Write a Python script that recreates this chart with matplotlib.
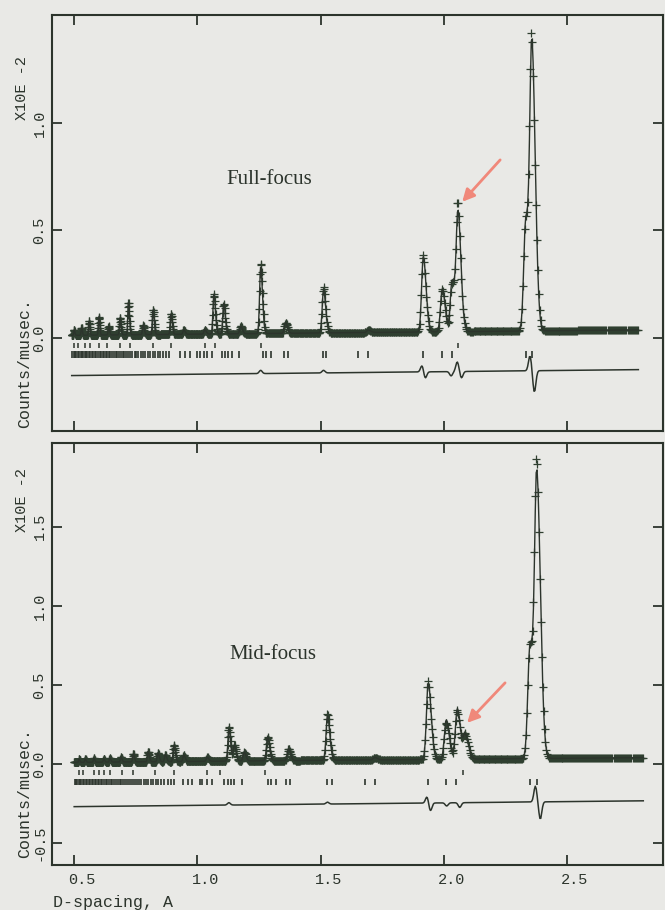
import numpy as np
import matplotlib
matplotlib.use("Agg")
import matplotlib.pyplot as plt
from matplotlib.transforms import ScaledTranslation

# ---------------- Full-focus bank ----------------
full_range = (0.49, 2.79)
full_peak_d = [0.500, 0.530, 0.560, 0.600, 0.640, 0.686, 0.720, 0.780, 0.820,
               0.893, 0.945, 1.030, 1.067, 1.107, 1.176, 1.257, 1.358, 1.512,
               1.694, 1.917, 1.994, 2.034, 2.058, 2.333, 2.358]
full_peak_h = [0.025, 0.035, 0.065, 0.085, 0.040, 0.080, 0.150, 0.045, 0.115,
               0.095, 0.020, 0.020, 0.185, 0.140, 0.035, 0.310, 0.050, 0.200,
               0.012, 0.350, 0.200, 0.240, 0.540, 0.520, 1.280]
full_bg = (0.012, 0.011)          # level at d=0.5, slope per Angstrom
full_diff_base = (-0.175, 0.012)
full_resid_d = [1.257, 1.512, 1.912, 1.925, 2.030, 2.055, 2.072, 2.350, 2.368]
full_resid_a = [0.015, 0.012, 0.030, -0.030, -0.020, 0.045, -0.030, 0.070, -0.100]
full_ticks_1 = [0.500, 0.515, 0.545, 0.565, 0.600, 0.632, 0.686, 0.728, 0.818,
                0.892, 1.030, 1.070, 1.257, 2.058]
full_ticks_2 = [0.492, 0.498, 0.503, 0.509, 0.514, 0.519, 0.526, 0.531, 0.537,
                0.542, 0.549, 0.554, 0.560, 0.566, 0.571, 0.578, 0.584, 0.589,
                0.596, 0.603, 0.608, 0.615, 0.621, 0.628, 0.634, 0.640, 0.647,
                0.653, 0.661, 0.668, 0.674, 0.682, 0.689, 0.697, 0.704, 0.712,
                0.720, 0.728, 0.736, 0.745, 0.752, 0.761, 0.770, 0.779, 0.789,
                0.798, 0.808, 0.818, 0.828, 0.839, 0.850, 0.862, 0.872, 0.883,
                0.930, 0.950, 0.970, 0.998, 1.010, 1.027, 1.040, 1.058, 1.100,
                1.112, 1.124, 1.140, 1.168, 1.265, 1.280, 1.300, 1.350, 1.368,
                1.508, 1.522, 1.650, 1.694, 1.917, 1.992, 2.032, 2.333, 2.358]

# ---------------- Mid-focus bank ----------------
mid_range = (0.50, 2.81)
mid_peak_d = [0.520, 0.545, 0.580, 0.620, 0.645, 0.690, 0.740, 0.800, 0.840,
              0.870, 0.905, 0.945, 1.040, 1.128, 1.150, 1.190, 1.285, 1.370,
              1.528, 1.720, 1.937, 2.010, 2.055, 2.087, 2.350, 2.378]
mid_peak_h = [0.020, 0.020, 0.025, 0.020, 0.025, 0.030, 0.050, 0.065, 0.055,
              0.045, 0.105, 0.040, 0.025, 0.200, 0.100, 0.055, 0.150, 0.075,
              0.280, 0.015, 0.480, 0.250, 0.320, 0.150, 0.720, 1.730]
mid_bg = (0.010, 0.013)
mid_diff_base = (-0.270, 0.016)
mid_resid_d = [1.128, 1.528, 1.932, 1.946, 2.012, 2.065, 2.372, 2.392]
mid_resid_a = [0.015, 0.012, 0.040, -0.050, -0.020, -0.030, 0.100, -0.110]
mid_ticks_1 = [0.520, 0.535, 0.580, 0.600, 0.620, 0.645, 0.695, 0.740, 0.830,
               0.905, 1.040, 1.090, 1.275, 2.078]
mid_ticks_2 = [0.502, 0.507, 0.513, 0.518, 0.524, 0.529, 0.535, 0.541, 0.547,
               0.553, 0.559, 0.565, 0.571, 0.577, 0.583, 0.589, 0.595, 0.602,
               0.608, 0.614, 0.621, 0.628, 0.634, 0.641, 0.648, 0.655, 0.662,
               0.669, 0.676, 0.684, 0.691, 0.699, 0.707, 0.714, 0.722, 0.730,
               0.738, 0.747, 0.755, 0.764, 0.773, 0.782, 0.791, 0.801, 0.811,
               0.821, 0.831, 0.842, 0.852, 0.863, 0.880, 0.895, 0.905,
               0.940, 0.960, 0.980, 1.010, 1.020, 1.040, 1.060, 1.110, 1.125,
               1.135, 1.150, 1.180, 1.285, 1.300, 1.320, 1.360, 1.375, 1.528,
               1.545, 1.680, 1.720, 1.937, 2.010, 2.050, 2.350, 2.378]

x_ticks = [0.5, 1.0, 1.5, 2.0, 2.5]
x_tick_labels = ["0.5", "1.0", "1.5", "2.0", "2.5"]

PAPER = "#e9e9e6"
INK = "#2c342c"
OBS = "#2f3f30"
ARROW = "#f0887a"
MONO = "Liberation Mono"


def profile(d, centers, heights, left_w, right_w):
    y = np.zeros_like(d)
    for c, h in zip(centers, heights):
        s = np.where(d < c, left_w * c, right_w * c)
        y += h * np.exp(-0.5 * ((d - c) / s) ** 2)
    return y


def residual(d, centers, amps, w=0.006):
    y = np.zeros_like(d)
    for c, a in zip(centers, amps):
        y += a * np.exp(-0.5 * ((d - c) / w) ** 2)
    return y


def draw_bank(ax, drange, pk_d, pk_h, bg, dbase, r_d, r_a, t1, t2,
              widths, t1_y, t2_y):
    d = np.geomspace(drange[0], drange[1], 1100)
    back = bg[0] + bg[1] * (d - 0.5)
    calc = back + profile(d, pk_d, pk_h, *widths)
    res = residual(d, r_d, r_a)
    obs = calc + res
    ax.plot(d, obs, linestyle="none", marker="+", markersize=5.5,
            markeredgewidth=0.9, color=OBS, zorder=3)
    ax.plot(d, calc, color=INK, lw=1.0, zorder=4)
    ax.plot(d, dbase[0] + dbase[1] * (d - 0.5) + res, color=INK, lw=1.1)
    ax.vlines(t1, t1_y[0], t1_y[1], color=INK, lw=1.1)
    ax.vlines(t2, t2_y[0], t2_y[1], color=INK, lw=1.2)


fig = plt.figure(figsize=(6.65, 9.10), dpi=100, facecolor=PAPER)
W, H = 665.0, 910.0

ax1 = fig.add_axes([52 / W, 1 - 431 / H, (663 - 52) / W, (431 - 15) / H])
ax2 = fig.add_axes([52 / W, 1 - 865 / H, (663 - 52) / W, (865 - 443) / H])

draw_bank(ax1, full_range, full_peak_d, full_peak_h, full_bg, full_diff_base,
          full_resid_d, full_resid_a, full_ticks_1, full_ticks_2,
          (0.0035, 0.0058), (-0.048, -0.022), (-0.094, -0.062))
draw_bank(ax2, mid_range, mid_peak_d, mid_peak_h, mid_bg, mid_diff_base,
          mid_resid_d, mid_resid_a, mid_ticks_1, mid_ticks_2,
          (0.0037, 0.0062), (-0.072, -0.040), (-0.130, -0.095))

ax1.set_ylim(-0.433, 1.502)
ax2.set_ylim(-0.639, 2.03)
ax1.set_yticks([0.0, 0.5, 1.0])
ax1.set_yticklabels(["0.0", "0.5", "1.0"])
ax2.set_yticks([-0.5, 0.0, 0.5, 1.0, 1.5])
ax2.set_yticklabels(["-0.5", "0.0", "0.5", "1.0", "1.5"])

for ax in (ax1, ax2):
    ax.set_facecolor(PAPER)
    ax.set_xlim(0.41, 2.89)
    ax.set_xticks(x_ticks)
    for s in ax.spines.values():
        s.set_linewidth(1.5)
        s.set_color(INK)
    ax.tick_params(direction="in", length=7, width=1.3, color=INK,
                   top=True, right=True, labelsize=11, labelcolor=INK, pad=4)
    for lab in ax.get_yticklabels():
        lab.set_rotation(90)
        lab.set_va("center")
        lab.set_family(MONO)

ax1.set_xticklabels([])
ax2.set_xticklabels(x_tick_labels, family=MONO)
ax2.tick_params(axis="x", pad=6)
shift = ScaledTranslation(8 / 100, 0, fig.dpi_scale_trans)
for lab in ax2.get_xticklabels():
    lab.set_transform(lab.get_transform() + shift)

# panel titles
ax1.text(1.293, 0.735, "Full-focus", family="Liberation Serif", fontsize=15,
         color=INK, ha="center", va="center")
ax2.text(1.306, 0.69, "Mid-focus", family="Liberation Serif", fontsize=15,
         color=INK, ha="center", va="center")

# arrows pointing at the marked reflections
ax1.annotate("", xy=(2.075, 0.633), xytext=(2.229, 0.828),
             arrowprops=dict(arrowstyle="-|>", color=ARROW, lw=2.0,
                             mutation_scale=18, shrinkA=0, shrinkB=0))
ax2.annotate("", xy=(2.095, 0.26), xytext=(2.249, 0.513),
             arrowprops=dict(arrowstyle="-|>", color=ARROW, lw=2.0,
                             mutation_scale=18, shrinkA=0, shrinkB=0))

# axis captions
for yc_counts, yc_scale in ((363, 88), (793, 500)):
    fig.text(25 / W, 1 - yc_counts / H, "Counts/musec.", family=MONO,
             fontsize=12, rotation=90, ha="center", va="center", color=INK)
    fig.text(22 / W, 1 - yc_scale / H, "X10E -2", family=MONO,
             fontsize=11, rotation=90, ha="center", va="center", color=INK)
fig.text(53 / W, 1 - 903 / H, "D-spacing, A", family=MONO, fontsize=12,
         ha="left", va="center", color=INK)

fig.savefig("out.png", dpi=100, facecolor=PAPER)
